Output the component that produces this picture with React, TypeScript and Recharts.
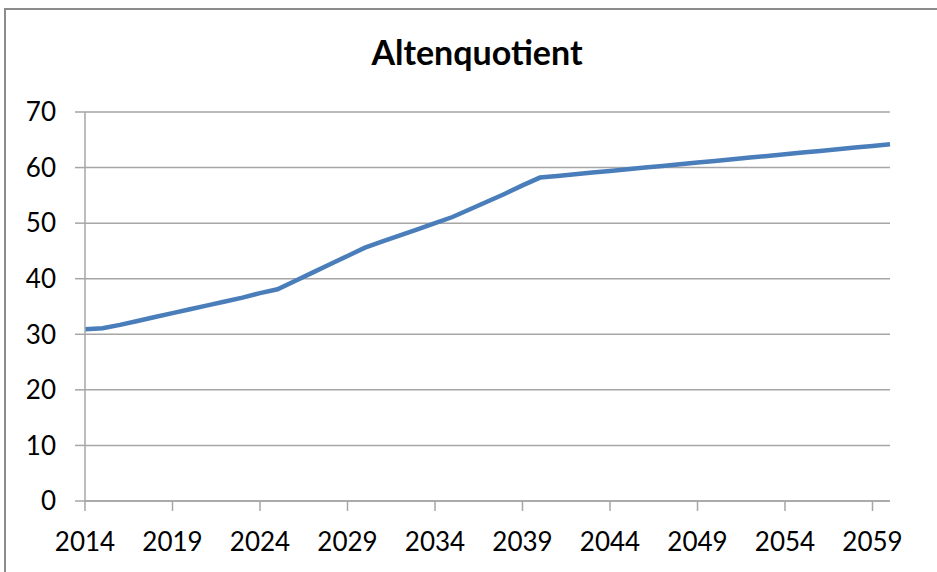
import React from "react";
import { LineChart, Line, XAxis, YAxis, CartesianGrid } from "recharts";

// Old-age dependency ratio per year
const years: string[] = [
  "2014", "2015", "2016", "2017", "2018", "2019", "2020", "2021", "2022", "2023",
  "2024", "2025", "2026", "2027", "2028", "2029", "2030", "2031", "2032", "2033",
  "2034", "2035", "2036", "2037", "2038", "2039", "2040", "2041", "2042", "2043",
  "2044", "2045", "2046", "2047", "2048", "2049", "2050", "2051", "2052", "2053",
  "2054", "2055", "2056", "2057", "2058", "2059", "2060",
];

const altenquotient: number[] = [
  30.9, 31.1, 31.7, 32.4, 33.1, 33.8, 34.5, 35.2, 35.9, 36.6,
  37.4, 38.1, 39.6, 41.1, 42.6, 44.1, 45.6, 46.7, 47.8, 48.9,
  50.0, 51.1, 52.5, 53.9, 55.3, 56.8, 58.2, 58.5, 58.8, 59.1,
  59.4, 59.7, 60.0, 60.3, 60.6, 60.9, 61.2, 61.5, 61.8, 62.1,
  62.4, 62.7, 63.0, 63.3, 63.6, 63.9, 64.2,
];

const yTicks: number[] = [0, 10, 20, 30, 40, 50, 60, 70];

const data = years.map((year, i) => ({ year, value: altenquotient[i] }));

const FONT = "Lato, 'Open Sans', 'DejaVu Sans', sans-serif";
const AXIS_GRAY = "#a6a6a6";

export default function App() {
  return (
    <div
      style={{
        position: "absolute",
        left: 0,
        top: 0,
        width: 937,
        height: 572,
        background: "#ffffff",
        overflow: "hidden",
        fontFamily: FONT,
      }}
    >
      <div
        style={{
          position: "absolute",
          left: 4,
          top: 8,
          width: 960,
          height: 600,
          borderLeft: "2px solid #8c8c8c",
          borderTop: "2px solid #8c8c8c",
          boxSizing: "border-box",
        }}
      />
      <svg
        width={937}
        height={100}
        style={{ position: "absolute", left: 0, top: 0 }}
      >
        <text
          x={477}
          y={65}
          textAnchor="middle"
          fontFamily={FONT}
          fontWeight={700}
          fontSize={34}
          fill="#000000"
        >
          Altenquotient
        </text>
      </svg>
      <div style={{ position: "absolute", left: 0, top: 0 }}>
        <LineChart
          width={937}
          height={572}
          data={data}
          margin={{ top: 112, right: 47, bottom: 11, left: 0 }}
        >
          <CartesianGrid
            vertical={false}
            stroke={AXIS_GRAY}
            strokeWidth={1.5}
          />
          <XAxis
            dataKey="year"
            interval={4}
            height={60}
            tickSize={10}
            tickMargin={22}
            stroke={AXIS_GRAY}
            strokeWidth={1.5}
            tick={{ fill: "#000000", fontSize: 26, fontFamily: FONT }}
          />
          <YAxis
            domain={[0, 70]}
            ticks={yTicks}
            width={85}
            tickSize={10}
            tickMargin={19}
            stroke={AXIS_GRAY}
            strokeWidth={1.5}
            tick={{ fill: "#000000", fontSize: 26, fontFamily: FONT }}
          />
          <Line
            type="linear"
            dataKey="value"
            stroke="#4a7ebb"
            strokeWidth={4.5}
            dot={false}
            activeDot={false}
            isAnimationActive={false}
          />
        </LineChart>
      </div>
    </div>
  );
}
